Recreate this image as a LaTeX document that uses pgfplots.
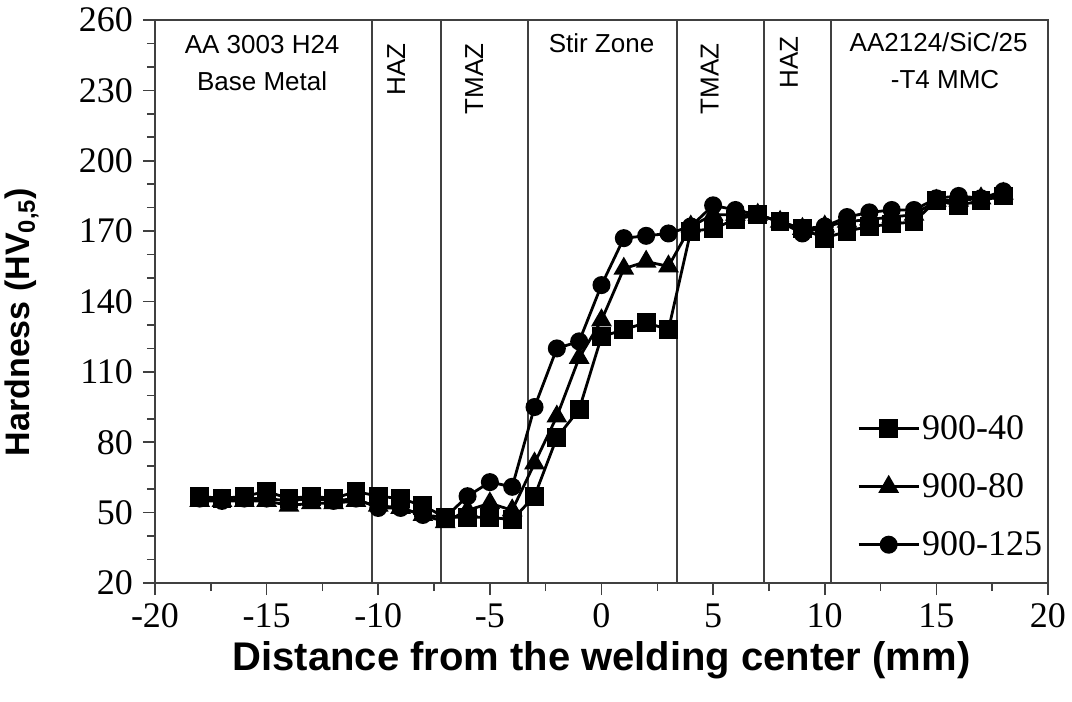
\documentclass[border=0pt]{standalone}
\usepackage{fontspec}
\setmainfont{Liberation Serif}
\setsansfont{Liberation Sans}
\usepackage{pgfplots}
\usepackage{pgfplotstable}
\pgfplotsset{compat=1.18}

% hardness profiles (x in mm, HV0.5)
\pgfplotstableread{
x   s40  s80  s125
-18 57   55   56
-17 56   55   55
-16 57   55   56
-15 59   55   56
-14 56   53   55
-13 57   54   56
-12 56   54   55
-11 59   55   56
-10 57   53   52
-9  56   52   52
-8  53   49   49
-7  48   46   48
-6  48   51   57
-5  48   54   63
-4  47   51   61
-3  57   71   95
-2  82   91   120
-1  94   116  123
0   125  132  147
1   128  154  167
2   131  157  168
3   128  155  169
4   170  172  172
5   171  177  181
6   175  177  179
7   177  177  177
8   174  174  174
9   171  171  169
10  167  172  172
11  170  174  176
12  172  175  178
13  173  176  179
14  174  177  179
15  183  183  184
16  181  183  185
17  183  184  184
18  185  186  187
}\hardness

\begin{document}
\begin{tikzpicture}
\path[use as bounding box] (-77.5bp,-59.5bp) rectangle (458.5bp,291.5bp);
\begin{axis}[
  at={(0,0)}, anchor=south west,
  width=446.5bp, height=281.5bp, scale only axis,
  xmin=-20, xmax=20, ymin=20, ymax=260,
  xtick={-20,-15,...,20}, ytick={20,50,...,260},
  minor x tick num=1, minor y tick num=2,
  tick pos=left,
  tick align=outside, major tick length=6bp, minor tick length=4bp,
  axis line style={draw=black!75, line width=1bp},
  every tick/.style={black!75, line width=0.8bp},
  tick label style={font=\fontsize{18bp}{20bp}\selectfont},
  yticklabel style={xshift=-1.5bp},
  xticklabel style={yshift=-1bp},
  /pgf/number format/assume math mode=true,
  xlabel={Distance from the welding center (mm)},
  ylabel={Hardness (HV\textsubscript{0,5})},
  xlabel style={font=\sffamily\bfseries\fontsize{20bp}{22bp}\selectfont,
    at={(axis description cs:0.5,-0.137)}, anchor=center},
  ylabel style={font=\sffamily\bfseries\fontsize{17bp}{20bp}\selectfont,
    at={(axis description cs:-0.149,0.4636)}, anchor=center},
  legend style={at={(axis description cs:0.786,0.302)}, anchor=north west,
    draw=none, fill=none, inner sep=0pt, row sep=13.5bp,
    font=\fontsize{18bp}{20bp}\selectfont, nodes={inner sep=1bp}},
  legend cell align=left,
  legend image code/.code={\draw[mark repeat=2,mark phase=2,#1]
    plot coordinates {(0bp,0bp) (15bp,0bp) (30bp,0bp)};},
  clip=false,
]
% zone boundaries
\addplot[forget plot, black!75, line width=1bp] coordinates {(-10.3,20) (-10.3,260)};
\addplot[forget plot, black!75, line width=1bp] coordinates {(-7.2,20) (-7.2,260)};
\addplot[forget plot, black!75, line width=1bp] coordinates {(-3.3,20) (-3.3,260)};
\addplot[forget plot, black!75, line width=1bp] coordinates {(3.4,20) (3.4,260)};
\addplot[forget plot, black!75, line width=1bp] coordinates {(7.3,20) (7.3,260)};
\addplot[forget plot, black!75, line width=1bp] coordinates {(10.3,20) (10.3,260)};

\addplot[black, line width=1.4bp, mark=square*, mark size=4bp] table[x=x, y=s40] {\hardness};
\addlegendentry{900-40}
\addplot[black, line width=1.4bp, mark=triangle*, mark size=4.6bp] table[x=x, y=s80] {\hardness};
\addlegendentry{900-80}
\addplot[black, line width=1.4bp, mark=*, mark size=3.8bp] table[x=x, y=s125] {\hardness};
\addlegendentry{900-125}

% zone names
\begin{scope}[font=\sffamily\fontsize{13bp}{18.5bp}\selectfont]
\node[align=center] at (axis cs:-15.2,241.5) {AA 3003 H24\\Base Metal};
\node[rotate=90] at (axis cs:-9.2,239) {HAZ};
\node[rotate=90] at (axis cs:-5.7,235) {TMAZ};
\node at (axis cs:0,250) {Stir Zone};
\node[rotate=90] at (axis cs:4.85,235) {TMAZ};
\node[rotate=90] at (axis cs:8.4,242) {HAZ};
\node[align=center] at (axis cs:15.1,242.5) {AA2124/SiC/25\\\hspace*{0.5em}-T4 MMC};
\end{scope}
\end{axis}
\end{tikzpicture}
\end{document}
